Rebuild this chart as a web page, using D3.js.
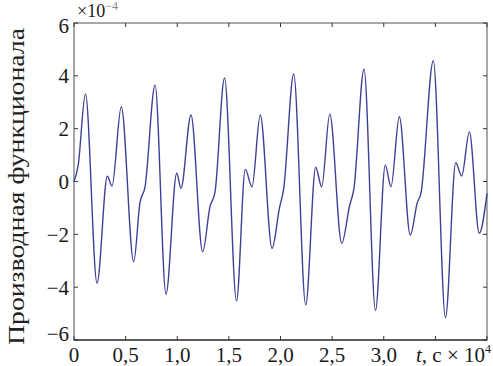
<!DOCTYPE html>
<html>
<head>
<meta charset="utf-8">
<script src="https://cdn.jsdelivr.net/npm/d3@7"></script>
<style>
  body { margin: 0; background: #fff; }
  svg { display: block; }
  text { font-family: "Liberation Serif", "DejaVu Serif", serif; fill: #1a1a1a; }
</style>
</head>
<body>
<div id="chart"></div>
<script>
// time, units of 10^4 s (at extrema and shoulders)
const tValues = [
  0, 0.04, 0.111, 0.223, 0.323, 0.368, 0.458, 0.578, 0.639, 0.688,
  0.785, 0.891, 0.995, 1.036, 1.133, 1.246, 1.317, 1.366, 1.458, 1.574,
  1.659, 1.724, 1.804, 1.918, 1.99, 2.03, 2.128, 2.244, 2.341, 2.399,
  2.477, 2.593, 2.67, 2.71, 2.809, 2.92, 3.015, 3.07, 3.151, 3.257,
  3.325, 3.36, 3.48, 3.598, 3.697, 3.755, 3.829, 3.925, 4.0
];
// derivative of the functional, units of 10^-4
const dValues = [
  0, 0.6, 3.31, -3.85, 0.2, -0.17, 2.83, -3.04, -0.8, -0.2,
  3.65, -4.26, 0.31, -0.26, 2.52, -2.66, -0.95, -0.39, 3.92, -4.52,
  0.46, -0.2, 2.52, -2.53, -1.0, -0.3, 4.07, -4.67, 0.54, -0.2,
  2.55, -2.34, -0.9, -0.3, 4.25, -4.88, 0.62, -0.2, 2.45, -2.03,
  -0.8, -0.45, 4.57, -5.15, 0.71, 0.21, 1.88, -1.96, -0.45
];
const xTicks = [0, 0.5, 1.0, 1.5, 2.0, 2.5, 3.0, 3.5, 4.0];
const xTickLabels = ['0', '0,5', '1,0', '1,5', '2,0', '2,5', '3,0', '', ''];
const yTicks = [-6, -4, -2, 0, 2, 4, 6];

const W = 493, H = 366;
const margin = { top: 23, right: 6, bottom: 26, left: 74 };

const svg = d3.select('#chart').append('svg')
    .attr('width', W)
    .attr('height', H);

const x = d3.scaleLinear().domain([0, 4]).range([margin.left, W - margin.right]);
const y = d3.scaleLinear().domain([-6, 6]).range([H - margin.bottom, margin.top]);

// frame
svg.append('rect')
    .attr('x', x(0)).attr('y', y(6))
    .attr('width', x(4) - x(0)).attr('height', y(-6) - y(6))
    .attr('fill', 'none').attr('stroke', '#7a7a7a').attr('stroke-width', 1.3);
svg.append('line')
    .attr('x1', x(0)).attr('x2', x(4))
    .attr('y1', y(-6)).attr('y2', y(-6))
    .attr('stroke', '#111').attr('stroke-width', 1.2);

// ticks, pointing inwards on all four sides
const tk = 4;
svg.selectAll('.xtb').data(xTicks).enter().append('line')
    .attr('x1', d => x(d)).attr('x2', d => x(d))
    .attr('y1', y(-6)).attr('y2', y(-6) - tk)
    .attr('stroke', '#333');
svg.selectAll('.xtt').data(xTicks).enter().append('line')
    .attr('x1', d => x(d)).attr('x2', d => x(d))
    .attr('y1', y(6)).attr('y2', y(6) + tk)
    .attr('stroke', '#333');
svg.selectAll('.ytl').data(yTicks).enter().append('line')
    .attr('x1', x(0)).attr('x2', x(0) + tk)
    .attr('y1', d => y(d)).attr('y2', d => y(d))
    .attr('stroke', '#333');
svg.selectAll('.ytr').data(yTicks).enter().append('line')
    .attr('x1', x(4)).attr('x2', x(4) - tk)
    .attr('y1', d => y(d)).attr('y2', d => y(d))
    .attr('stroke', '#333');

// tick labels
svg.selectAll('.xl').data(xTicks).enter().append('text')
    .attr('x', d => x(d))
    .attr('y', H - 4)
    .attr('text-anchor', 'middle')
    .style('font-size', '21px')
    .text((d, i) => xTickLabels[i]);

svg.selectAll('.yl').data(yTicks).enter().append('text')
    .attr('x', x(0) - 5)
    .attr('y', d => Math.max(Math.min(y(d), y(-6) - 6), y(6) + 3))
    .attr('dy', '0.35em')
    .attr('text-anchor', 'end')
    .style('font-size', '21px')
    .text(d => d < 0 ? '\u2212' + Math.abs(d) : d);

// exponent at the top of the y axis
const ex = svg.append('text')
    .attr('x', 77).attr('y', 17)
    .style('font-size', '18px')
    .text('\u00d710');
ex.append('tspan')
    .attr('dy', -7)
    .style('font-size', '12px')
    .style('fill', '#888')
    .text('\u22124');

// x axis title in place of the 3,5 label
const xt = svg.append('text')
    .attr('x', 491).attr('y', H - 4)
    .attr('text-anchor', 'end')
    .style('font-size', '21px');
xt.append('tspan').style('font-style', 'italic').text('t');
xt.append('tspan').text(', c \u00d7 10');
xt.append('tspan').attr('dy', -9).style('font-size', '12px').text('4');

// y axis title
svg.append('text')
    .attr('transform', `translate(24,${(28 + 345) / 2}) rotate(-90)`)
    .attr('text-anchor', 'middle')
    .attr('textLength', 317)
    .attr('lengthAdjust', 'spacingAndGlyphs')
    .style('font-size', '23px')
    .style('fill', '#222')
    .text('Производная функционала');

// curve
const pts = tValues.map((t, i) => [t, dValues[i]]);
const line = d3.line()
    .x(d => x(d[0]))
    .y(d => y(d[1]))
    .curve(d3.curveMonotoneX);

svg.append('path')
    .datum(pts)
    .attr('d', line)
    .attr('fill', 'none')
    .attr('stroke', '#3e4096')
    .attr('stroke-width', 1.4);
</script>
</body>
</html>
